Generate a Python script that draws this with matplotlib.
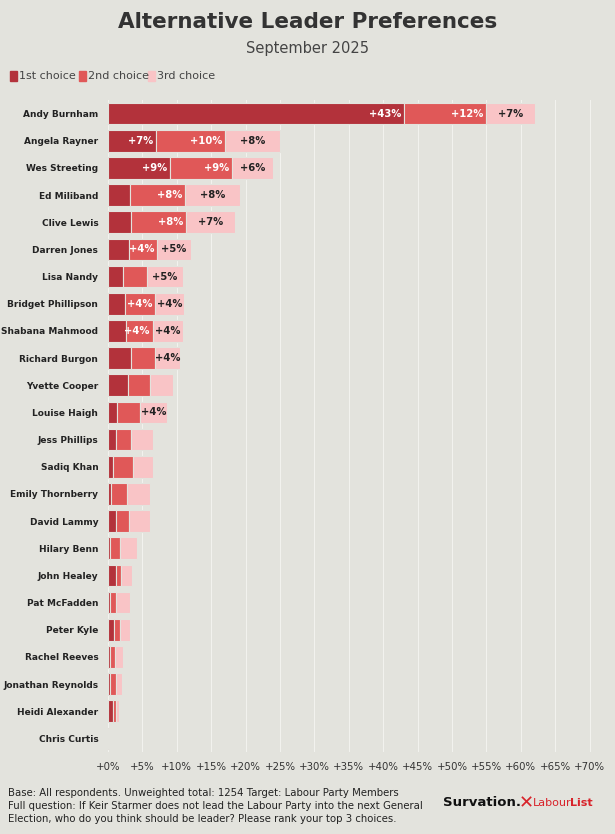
import matplotlib
matplotlib.use("Agg")
import matplotlib.pyplot as plt
import numpy as np

names = ["Andy Burnham","Angela Rayner","Wes Streeting","Ed Miliband","Clive Lewis","Darren Jones",
         "Lisa Nandy","Bridget Phillipson","Shabana Mahmood","Richard Burgon","Yvette Cooper",
         "Louise Haigh","Jess Phillips","Sadiq Khan","Emily Thornberry","David Lammy","Hilary Benn",
         "John Healey","Pat McFadden","Peter Kyle","Rachel Reeves","Jonathan Reynolds",
         "Heidi Alexander","Chris Curtis"]
first  = [43,7,9,3.2,3.4,3.1,2.2,2.5,2.6,3.4,2.9,1.3,1.1,0.7,0.4,1.2,0.3,1.2,0.3,0.9,0.3,0.3,0.7,0.1]
second = [12,10,9,8,8,4,3.4,4.4,3.9,3.4,3.2,3.4,2.2,3.0,2.4,1.9,1.5,0.7,0.9,0.8,0.7,0.8,0.5,0]
third  = [7,8,6,8,7,5,5.3,4.1,4.4,3.7,3.3,3.9,3.3,2.9,3.3,3.0,2.4,1.6,2.0,1.5,1.2,0.9,0.4,0]
ticks = list(range(0, 75, 5))

bg = "#e3e3dd"
c1, c2, c3 = "#b3323b", "#e05858", "#f9c4c6"
fig = plt.figure(figsize=(6.15, 8.34), dpi=100, facecolor=bg)
ax = fig.add_axes([108/615, 1-752/834, 492/615, 652/834], facecolor=bg)
y = np.arange(len(names))
h = 0.8
ax.barh(y, first, height=h, color=c1, edgecolor=bg, linewidth=0.8)
ax.barh(y, second, left=first, height=h, color=c2, edgecolor=bg, linewidth=0.8)
left3 = np.array(first) + np.array(second)
ax.barh(y, third, left=left3, height=h, color=c3, edgecolor=bg, linewidth=0.8)
for i in range(len(names)):
    if first[i] >= 3.5:
        ax.text(first[i]-0.4, i, f"+{round(first[i])}%", ha="right", va="center", color="white", fontsize=7.2, fontweight="bold")
    if second[i] >= 3.5:
        ax.text(first[i]+second[i]-0.4, i, f"+{round(second[i])}%", ha="right", va="center", color="white", fontsize=7.2, fontweight="bold")
    if third[i] >= 3.5:
        ax.text(left3[i]+third[i]/2, i, f"+{round(third[i])}%", ha="center", va="center", color="#222", fontsize=7.2, fontweight="bold")
ax.set_ylim(len(names)-0.5, -0.5)
ax.set_xlim(0, 71.5)
ax.set_yticks(y)
ax.set_yticklabels(names, fontsize=6.5, fontweight="bold", color="#222")
ax.set_xticks(ticks)
ax.set_xticklabels([f"+{t}%" for t in ticks], fontsize=7.3, color="#333")
ax.tick_params(length=0, pad=7)
ax.grid(axis="x", color="#f2f2ee", linewidth=0.8)
ax.set_axisbelow(True)
for s in ax.spines.values():
    s.set_visible(False)

fig.text(0.5, 1-22/834, "Alternative Leader Preferences", ha="center", va="center", fontsize=15.5, fontweight="bold", color="#333")
fig.text(0.5, 1-48/834, "September 2025", ha="center", va="center", fontsize=10.5, color="#444")
lx = 10
for lab, c in [("1st choice", c1), ("2nd choice", c2), ("3rd choice", c3)]:
    fig.patches.append(plt.Rectangle((lx/615, 1-81/834), 7/615, 10/834, color=c, transform=fig.transFigure))
    fig.text((lx+9)/615, 1-76/834, lab, ha="left", va="center", fontsize=8, color="#444")
    lx += 69
fig.text(8/615, 1-806/834, "Base: All respondents. Unweighted total: 1254 Target: Labour Party Members\n"
         "Full question: If Keir Starmer does not lead the Labour Party into the next General\n"
         "Election, who do you think should be leader? Please rank your top 3 choices.",
         ha="left", va="center", fontsize=7.3, color="#222", linespacing=1.35)
fig.text(443/615, 1-803/834, "Survation.", ha="left", va="center", fontsize=9.5, fontweight="bold", color="#111")
fig.text(519/615, 1-803/834, "✕", ha="left", va="center", fontsize=13, fontweight="bold", color="#d8232a")
fig.text(533/615, 1-803/834, "Labour", ha="left", va="center", fontsize=8, color="#d8232a")
fig.text(570/615, 1-803/834, "List", ha="left", va="center", fontsize=8, fontweight="bold", color="#d8232a")
fig.savefig("out.png", dpi=100, facecolor=bg)
